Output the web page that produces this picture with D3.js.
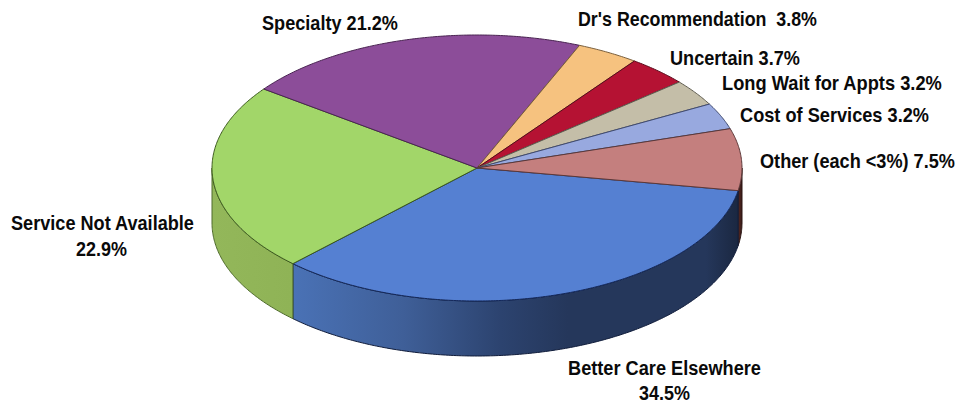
<!DOCTYPE html>
<html><head><meta charset="utf-8">
<script src="https://cdn.jsdelivr.net/npm/d3@7"></script>
<style>html,body{margin:0;padding:0;background:#fff}svg{display:block}
text{font-family:"Liberation Sans",Arial,sans-serif;font-weight:700;font-size:20px;fill:#0a0a0a;white-space:pre}</style>
</head><body><svg id="c" width="962" height="406"></svg>
<script>
const categories = ["Better Care Elsewhere","Service Not Available","Specialty","Dr's Recommendation","Uncertain","Long Wait for Appts","Cost of Services","Other (each <3%)"];
const values = [34.5,22.9,21.2,3.8,3.7,3.2,3.2,7.5];
const topColors = ["#5580d2","#a2d669","#8c4d99","#f6c27f","#b51233","#c4bea8","#98a9df","#c47f7e"];
const strokeColors = ["#14285a","#3c5a1e","#4a2452","#7a5f3c","#5a0a1a","#5f5c50","#3f4a70","#5c3838"];
const labelText = ["Better Care Elsewhere","34.5%","Service Not Available","22.9%","Specialty 21.2%","Dr's Recommendation  3.8%","Uncertain 3.7%","Long Wait for Appts 3.2%","Cost of Services 3.2%","Other (each <3%) 7.5%"];
// label placement in page pixels: left edge, baseline, drawn width
const labelX = [568,639,11,76,262,578,670,722,740,760];
const labelY = [375,400,230,256,30,26,65,90,122,168];
const labelW = [193,51,183,51,136,239,130,220,189,195];

const cx=477, cy=168, rx=265, ry=133, depth=55;
const W=962,H=406;
const svg=d3.select("#c").attr("viewBox",[0,0,W,H]);
const sx=d3.scaleLinear().domain([-1,1]).range([cx-rx,cx+rx]);
const sy=d3.scaleLinear().domain([-1,1]).range([cy-ry,cy+ry]);
const START=99.8*Math.PI/180;
const arcs=d3.pie().sort(null).value(d=>d).startAngle(START).endAngle(START+2*Math.PI)(values);
const px=a=>sx(Math.sin(a)), py=a=>sy(-Math.cos(a));
const samples=(a0,a1)=>{const n=Math.max(2,Math.ceil(Math.abs(a1-a0)/0.01));return d3.range(n+1).map(i=>a0+(a1-a0)*i/n);};
const line=d3.line().x(a=>px(a)).y(a=>py(a));
const defs=svg.append("defs");
function grad(id,stops,x1,x2){const g=defs.append("linearGradient").attr("id",id).attr("gradientUnits","userSpaceOnUse").attr("x1",x1).attr("x2",x2).attr("y1",0).attr("y2",0);
 stops.forEach(([o,c])=>g.append("stop").attr("offset",o).attr("stop-color",c));}
grad("gBlue",[[0,"#4a72b6"],[0.25,"#3f5f98"],[0.47,"#2c436f"],[0.62,"#25375b"],[0.93,"#25375b"],[1,"#1b2842"]],292,737);
grad("gGreen",[[0,"#93b75a"],[1,"#8fb356"]],212,292);
grad("gPink",[[0,"#5b2c26"],[1,"#3a1b18"]],737,742);

function wall(a0,a1,fill,stroke){
  const pts=samples(a0,a1);
  const top=pts.map(a=>[px(a),py(a)]);
  const bottom=pts.slice().reverse().map(a=>[px(a),py(a)+depth]);
  svg.append("path").attr("d",d3.line()(top.concat(bottom))+"Z").attr("fill",fill).attr("stroke",stroke).attr("stroke-width",1).attr("stroke-linejoin","round");
}
wall(Math.PI/2,arcs[0].startAngle,"url(#gPink)","#2a1512");
wall(arcs[0].startAngle,arcs[0].endAngle,"url(#gBlue)","#101c3a");
wall(arcs[1].startAngle,3*Math.PI/2,"url(#gGreen)","#4e6a2c");

svg.append("g").selectAll("path").data(arcs).join("path")
 .attr("d",d=>"M"+cx+","+cy+"L"+line(samples(d.startAngle,d.endAngle)).slice(1)+"Z")
 .attr("fill",(d,i)=>topColors[i]).attr("stroke",(d,i)=>strokeColors[i]).attr("stroke-width",1).attr("stroke-linejoin","round");

svg.append("g").selectAll("text").data(labelText).join("text").text(d=>d)
 .attr("transform",function(d,i){
   const k=labelW[i]/this.getComputedTextLength();
   return `translate(${labelX[i]},${labelY[i]}) scale(${k},1)`;
 });
</script></body></html>
